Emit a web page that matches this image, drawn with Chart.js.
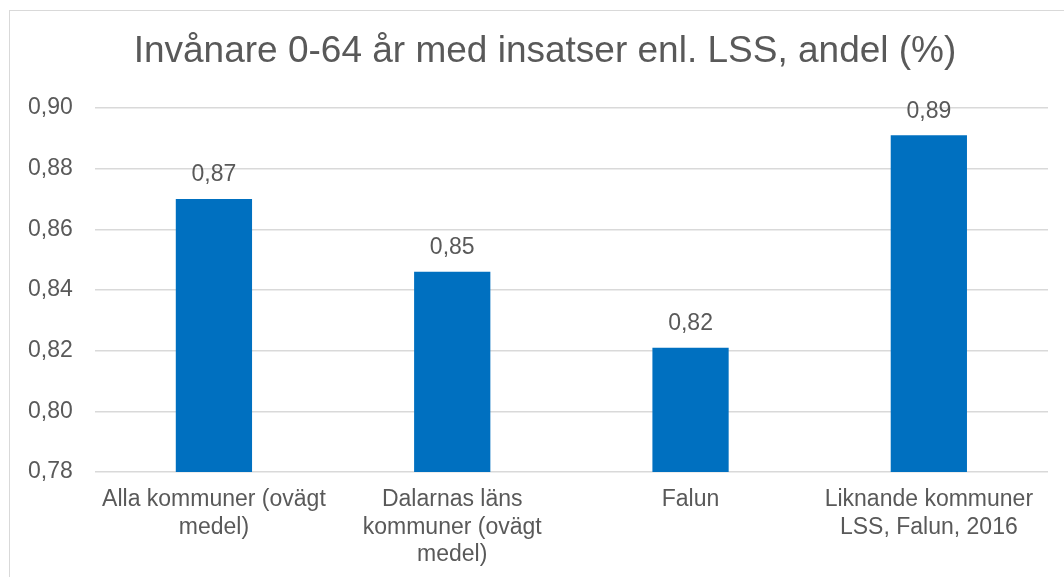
<!DOCTYPE html>
<html lang="sv">
<head>
<meta charset="utf-8">
<title>Invånare 0-64 år med insatser enl. LSS</title>
<script src="https://cdn.jsdelivr.net/npm/chart.js@4/dist/chart.umd.min.js"></script>
<style>
    html, body { margin: 0; padding: 0; background: #fff; }
    #wrap { position: relative; width: 1064px; height: 577px; overflow: hidden; }
    #frame {
        position: absolute; left: 9px; top: 10px; width: 1200px; height: 700px;
        border: 1px solid #d9d9d9; box-sizing: border-box;
    }
    canvas { position: absolute; left: 0; top: 0; }
</style>
</head>
<body>
<div id="wrap">
    <div id="frame"></div>
    <canvas id="chart" width="1064" height="577"></canvas>
</div>
<script>
const chartTitle = 'Invånare 0-64 år med insatser enl. LSS, andel (%)';
const categories = [
    ['Alla kommuner (ovägt', 'medel)'],
    ['Dalarnas läns', 'kommuner (ovägt', 'medel)'],
    ['Falun'],
    ['Liknande kommuner', 'LSS, Falun, 2016']
];
const values = [0.870, 0.846, 0.821, 0.891];
const yMin = 0.78;
const yMax = 0.90;
const yStep = 0.02;

const textColor = '#595959';
const fontFamily = 'Arial, "Liberation Sans", sans-serif';

const fmt = (v) => v.toFixed(2).replace('.', ',');

// value above each bar + the title (centred on the frame, not the plot)
const chartText = {
    id: 'chartText',
    afterDatasetsDraw(chart) {
        const ctx = chart.ctx;
        const meta = chart.getDatasetMeta(0);
        ctx.save();
        ctx.fillStyle = textColor;
        ctx.textAlign = 'center';
        ctx.textBaseline = 'middle';
        ctx.font = '23px ' + fontFamily;
        meta.data.forEach((bar, i) => {
            ctx.fillText(fmt(values[i]), bar.x, bar.y - 24);
        });
        ctx.font = '37px ' + fontFamily;
        ctx.fillText(chartTitle, 545, 52);
        ctx.restore();
    }
};

new Chart(document.getElementById('chart'), {
    type: 'bar',
    data: {
        labels: categories,
        datasets: [{
            data: values,
            backgroundColor: '#0070C0',
            categoryPercentage: 1,
            barPercentage: 0.32
        }]
    },
    options: {
        responsive: false,
        animation: false,
        layout: { padding: { left: 6, right: 16, top: 108, bottom: 0 } },
        plugins: {
            legend: { display: false },
            tooltip: { enabled: false },
            title: { display: false }
        },
        scales: {
            x: {
                grid: { display: false, drawTicks: false },
                border: { display: false },
                ticks: {
                    color: textColor,
                    font: { family: fontFamily, size: 23 },
                    padding: 14,
                    maxRotation: 0,
                    autoSkip: false
                },
                afterFit: (scale) => {
                    scale.height = 105;
                }
            },
            y: {
                min: yMin,
                max: yMax,
                grid: { color: '#d9d9d9', lineWidth: 1.5, drawTicks: false },
                border: { display: false },
                ticks: {
                    stepSize: yStep,
                    color: textColor,
                    font: { family: fontFamily, size: 23 },
                    padding: 22,
                    callback: (v) => fmt(v)
                }
            }
        }
    },
    plugins: [chartText]
});
</script>
</body>
</html>
